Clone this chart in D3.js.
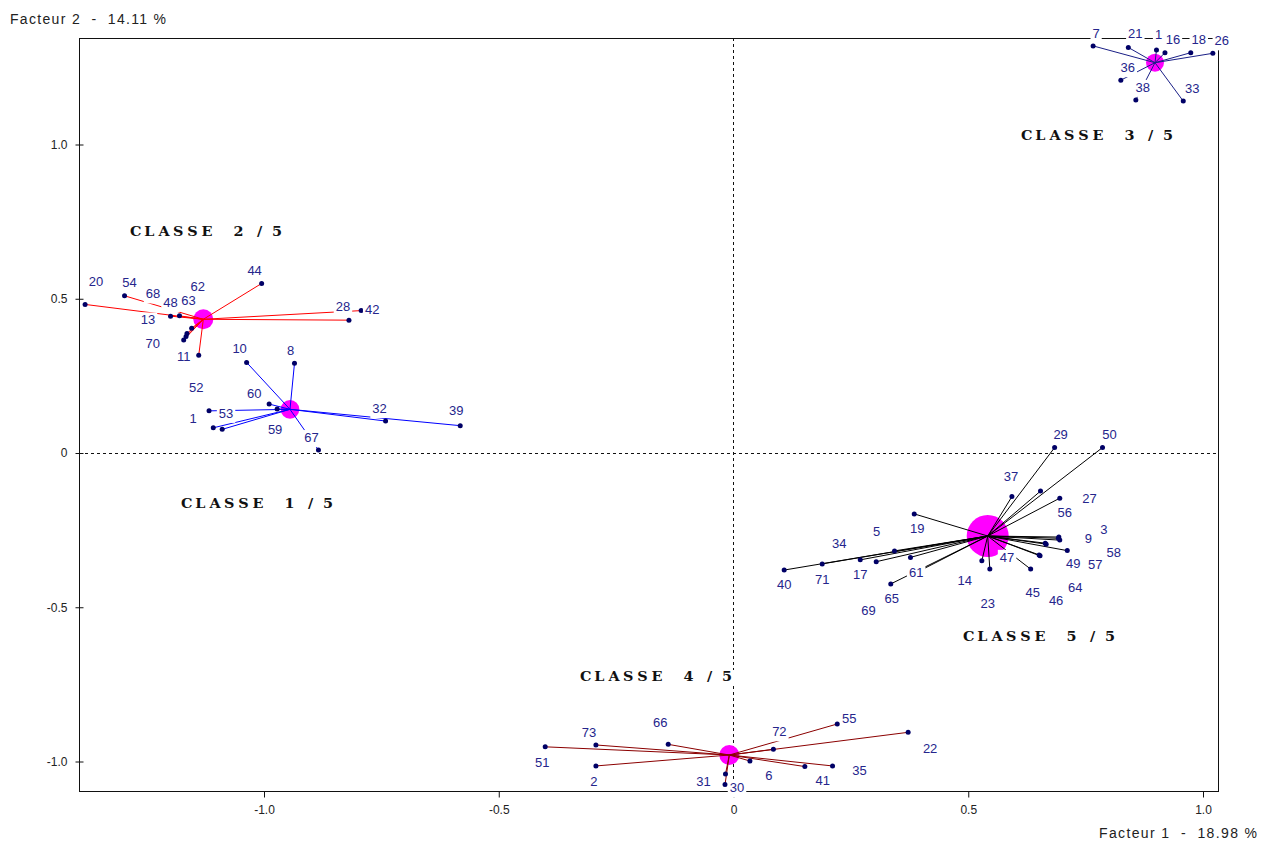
<!DOCTYPE html>
<html>
<head>
<meta charset="utf-8">
<script src="https://cdn.jsdelivr.net/npm/d3@7"></script>
<style>
  html, body { margin: 0; padding: 0; background: #fff; }
  svg { display: block; }
</style>
</head>
<body>
<svg id="chart" width="1264" height="843"></svg>
<script>
// ---- Data: factor coordinates (axis 1, axis 2) of the individuals, by cluster ----
const axisTitleX = "Facteur 1  -  18.98 %";
const axisTitleY = "Facteur 2  -  14.11 %";
const xTickValues = [-1.0, -0.5, 0, 0.5, 1.0];
const yTickValues = [-1.0, -0.5, 0, 0.5, 1.0];
const tickLabels = ["-1.0", "-0.5", "0", "0.5", "1.0"];

const classNames = ["CLASSE 1 / 5", "CLASSE 2 / 5", "CLASSE 3 / 5", "CLASSE 4 / 5", "CLASSE 5 / 5"];
// class barycentres on axes 1 and 2
const classCenters = [
  [-0.9436, 0.1400],
  [-1.1282, 0.4318],
  [0.8988, 1.2635],
  [-0.0079, -0.9806],
  [0.5425, -0.2707]
];

const class1 = [
  ["10", -1.036, 0.292], ["8", -0.934, 0.289], ["60", -0.988, 0.157],
  ["53", -1.116, 0.135], ["52", -1.107, 0.080], ["1", -1.088, 0.075],
  ["59", -0.971, 0.141], ["67", -0.883, 0.008], ["32", -0.740, 0.102],
  ["39", -0.581, 0.087]
];
const class2 = [
  ["20", -1.380, 0.480], ["54", -1.296, 0.508], ["68", -1.163, 0.386],
  ["48", -1.198, 0.442], ["63", -1.179, 0.443], ["62", -1.153, 0.403],
  ["44", -1.004, 0.548], ["28", -0.818, 0.429], ["42", -0.792, 0.460],
  ["13", -1.165, 0.376], ["70", -1.170, 0.365], ["11", -1.138, 0.315]
];
const class3 = [
  ["7", 0.767, 1.318], ["21", 0.842, 1.313], ["1", 0.902, 1.305],
  ["16", 0.920, 1.296], ["18", 0.975, 1.296], ["26", 1.022, 1.294],
  ["36", 0.826, 1.207], ["38", 0.858, 1.143], ["33", 0.959, 1.139]
];
const class4 = [
  ["51", -0.400, -0.954], ["73", -0.292, -0.948], ["66", -0.138, -0.946],
  ["2", -0.292, -1.016], ["31", -0.016, -1.042], ["30", -0.017, -1.076],
  ["6", 0.036, -1.000], ["72", 0.086, -0.962], ["55", 0.222, -0.880],
  ["22", 0.373, -0.907], ["41", 0.153, -1.018], ["35", 0.212, -1.016]
];
const class5 = [
  ["29", 0.685, 0.016], ["50", 0.787, 0.016], ["37", 0.594, -0.143],
  ["27", 0.655, -0.125], ["56", 0.696, -0.148], ["9", 0.693, -0.278],
  ["3", 0.696, -0.284], ["58", 0.694, -0.274], ["57", 0.665, -0.294],
  ["64", 0.667, -0.297], ["49", 0.712, -0.318], ["46", 0.652, -0.332],
  ["47", 0.654, -0.335], ["45", 0.634, -0.378], ["23", 0.547, -0.378],
  ["14", 0.530, -0.351], ["61", 0.388, -0.391], ["65", 0.336, -0.426],
  ["69", 0.378, -0.340], ["19", 0.386, -0.199], ["5", 0.344, -0.319],
  ["34", 0.305, -0.354], ["17", 0.271, -0.348], ["71", 0.190, -0.361],
  ["40", 0.109, -0.381]
];

// ---- Layout: label placement (pixel shift of each label centre from its point) ----
const labelShift = {
  "1:10": [-7, -14], "1:8": [-4, -13], "1:60": [-15, -11], "1:53": [17, 2],
  "1:52": [-17, -41], "1:1": [-29, -11], "1:59": [-2, 20], "1:67": [-7, -13],
  "1:32": [-6, -13], "1:39": [-4, -15],
  "2:20": [11, -23], "2:54": [5, -13], "2:68": [-34, -40], "2:48": [0, -14],
  "2:63": [9, -16], "2:62": [6, -42], "2:44": [-7, -13], "2:28": [-6, -14],
  "2:42": [11, -1], "2:13": [-38, -17], "2:70": [-31, 3], "2:11": [-15, 1],
  "3:7": [3, -13], "3:21": [7, -14], "3:1": [2, -16], "3:16": [8, -13],
  "3:18": [8, -13], "3:26": [9, -13], "3:36": [7, -13], "3:38": [7, -13],
  "3:33": [9, -13],
  "4:51": [-3, 15], "4:73": [-7, -13], "4:66": [-8, -22], "4:2": [-2, 15],
  "4:31": [-22, 7], "4:30": [12, 3], "4:6": [19, 14], "4:72": [6, -18],
  "4:55": [12, -6], "4:22": [22, 16], "4:41": [18, 14], "4:35": [27, 4],
  "5:29": [6, -13], "5:50": [7, -13], "5:37": [-1, -20], "5:27": [49, 7],
  "5:56": [5, 14], "5:9": [30, 0], "5:3": [44, -11], "5:58": [55, 15],
  "5:57": [50, 21], "5:64": [29, 43], "5:49": [6, 13], "5:46": [17, 45],
  "5:47": [-33, 1], "5:45": [2, 23], "5:23": [-2, 34], "5:14": [-17, 20],
  "5:61": [1, -1], "5:65": [1, 14], "5:69": [-42, 53], "5:19": [3, 14],
  "5:5": [-18, -20], "5:34": [-37, -18], "5:17": [0, 14], "5:71": [0, 15],
  "5:40": [0, 14]
};
// class titles: left end and vertical middle, in factor units
const classTitleAt = [
  [-1.1757, -0.1669], [-1.2843, 0.7147], [0.6134, 1.0259], [-0.3259, -0.7277], [0.4899, -0.5981]
];
// start of each character of a class title, px from its left end
const titleCharStart = [0, 14.3, 28.6, 42.9, 57.2, 71.5, 88, 103.5, 117, 127, 138, 142];
const classColors = ["#0000ff", "#ff0000", "#1a1f86", "#8b0000", "#000000"];

const memberLists = [class1, class2, class3, class4, class5];

// ---- Scales ----
const svg = d3.select("#chart");
const x = d3.scaleLinear().domain([-1.393, 1.033]).range([79, 1218]);
const y = d3.scaleLinear().domain([-1.0972, 1.3436]).range([791, 38]);
const radius = d3.scaleLinear().domain([0, 12, 25]).range([6, 10, 21]);

const [x0, x1] = x.range();
const [y0, y1] = y.range(); // y0 bottom, y1 top

// ---- Frame and zero lines ----
svg.append("rect")
  .attr("x", x0 + 0.5).attr("y", y1 + 0.5)
  .attr("width", x1 - x0).attr("height", y0 - y1)
  .attr("fill", "none").attr("stroke", "#111").attr("stroke-width", 1);

svg.append("line")
  .attr("x1", x0).attr("x2", x1)
  .attr("y1", Math.round(y(0)) + 0.5).attr("y2", Math.round(y(0)) + 0.5)
  .attr("stroke", "#111").attr("stroke-dasharray", "3,3");
svg.append("line")
  .attr("x1", Math.round(x(0)) + 0.5).attr("x2", Math.round(x(0)) + 0.5)
  .attr("y1", y1).attr("y2", y0)
  .attr("stroke", "#111").attr("stroke-dasharray", "3,3");

// ---- Axes ----
const gx = svg.append("g")
  .attr("transform", `translate(0.5,${y0 + 0.5})`)
  .call(d3.axisBottom(x).tickValues(xTickValues)
    .tickFormat((d, i) => tickLabels[i]).tickSize(6).tickPadding(8));
const gy = svg.append("g")
  .attr("transform", `translate(${x0 + 0.5},0.5)`)
  .call(d3.axisLeft(y).tickValues(yTickValues)
    .tickFormat((d, i) => tickLabels[i]).tickSize(4).tickPadding(8));
gy.selectAll(".tick line").attr("x1", 4);
[gx, gy].forEach(g => {
  g.select(".domain").remove();
  g.selectAll(".tick line").attr("stroke", "#111");
  g.selectAll(".tick text")
    .attr("font-family", "'Liberation Sans', Arial, sans-serif")
    .attr("font-size", 12).attr("fill", "#222");
});

// ---- Clusters: barycentre disc, links, points ----
const centres = svg.append("g");
const links = svg.append("g");
const points = svg.append("g");
const labelLayer = svg.append("g");

memberLists.forEach((list, k) => {
  const [cx, cy] = classCenters[k];
  centres.append("circle")
    .attr("cx", x(cx)).attr("cy", y(cy))
    .attr("r", radius(list.length))
    .attr("fill", "#ff00ff");

  links.selectAll(null).data(list).enter().append("line")
    .attr("x1", x(cx)).attr("y1", y(cy))
    .attr("x2", d => x(d[1])).attr("y2", d => y(d[2]))
    .attr("stroke", classColors[k]).attr("stroke-width", 1);

  points.selectAll(null).data(list).enter().append("circle")
    .attr("cx", d => x(d[1])).attr("cy", d => y(d[2]))
    .attr("r", 2.5).attr("fill", "#000066");
});

// ---- Point labels on white boxes ----
const labelFont = "'Liberation Sans', Arial, sans-serif";
const boxes = labelLayer.append("g");
const texts = labelLayer.append("g");
memberLists.forEach((list, k) => {
  list.forEach(d => {
    const s = labelShift[`${k + 1}:${d[0]}`] || [6, -13];
    const lx = x(d[1]) + s[0];
    const ly = y(d[2]) + s[1];
    const t = texts.append("text")
      .attr("x", lx).attr("y", ly).attr("dy", "0.36em")
      .attr("text-anchor", "middle")
      .attr("font-family", labelFont).attr("font-size", 13)
      .attr("fill", "#25258c")
      .text(d[0]);
    const w = t.node().getComputedTextLength();
    boxes.append("rect")
      .attr("x", lx - w / 2 - 2).attr("y", ly - 7)
      .attr("width", w + 4).attr("height", 17)
      .attr("fill", "#fff");
  });
});

// ---- Class titles (wide bold serif, fixed character starts) ----
const stretch = 1.2;
classNames.forEach((name, k) => {
  const [tx, ty] = classTitleAt[k];
  const g = svg.append("g")
    .attr("transform", `translate(${x(tx)},${y(ty)})`);
  g.append("rect")
    .attr("x", -1).attr("y", -7)
    .attr("width", 155).attr("height", 14).attr("fill", "#fff");
  g.append("text")
    .attr("transform", `scale(${stretch},1)`)
    .attr("x", titleCharStart.map(v => (v / stretch).toFixed(2)).join(" "))
    .attr("y", 0).attr("dy", "0.36em")
    .attr("font-family", "'DejaVu Serif', 'Liberation Serif', serif")
    .attr("font-weight", "bold").attr("font-size", 12)
    .attr("fill", "#111")
    .text(name);
});

// ---- Axis titles ----
svg.append("text")
  .attr("x", 10).attr("y", 24)
  .attr("font-family", labelFont).attr("font-size", 14).attr("fill", "#222")
  .attr("textLength", 156).attr("lengthAdjust", "spacing")
  .style("white-space", "pre")
  .text(axisTitleY);
svg.append("text")
  .attr("x", 1099).attr("y", 838)
  .attr("font-family", labelFont).attr("font-size", 14).attr("fill", "#222")
  .attr("textLength", 158).attr("lengthAdjust", "spacing")
  .style("white-space", "pre")
  .text(axisTitleX);
</script>
</body>
</html>
